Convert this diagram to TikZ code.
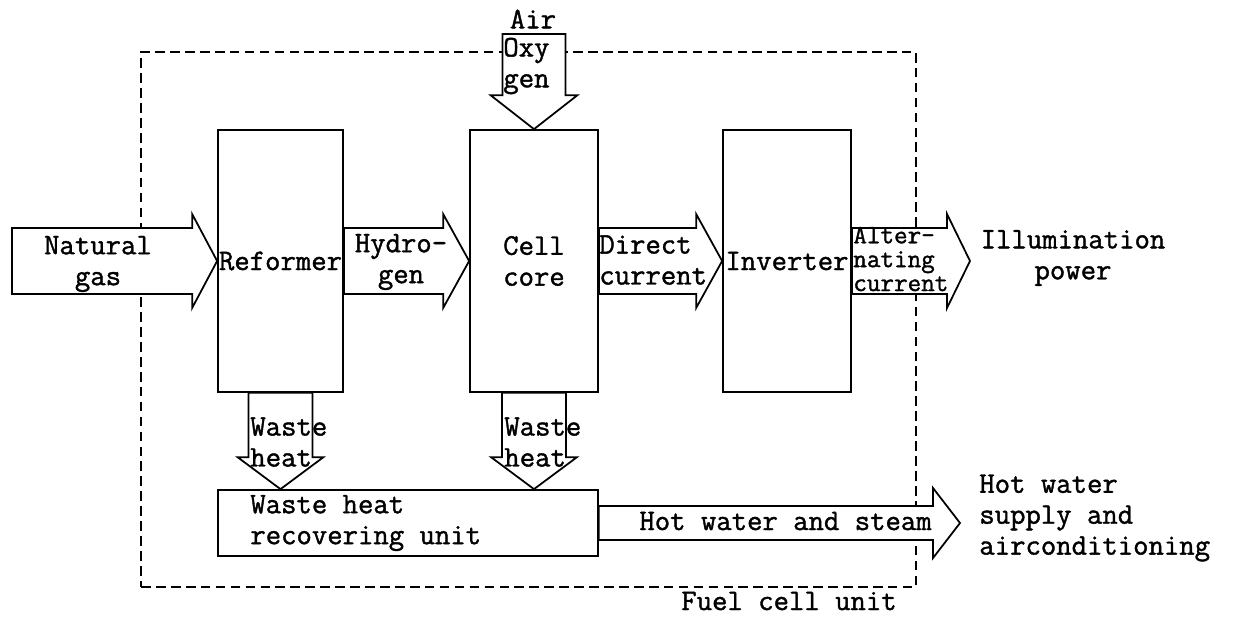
\documentclass[tikz,border=0pt]{standalone}
\usepackage{fontspec}
\usepackage{tikz}
\usetikzlibrary{calc}

\newfontfamily\typewriter[FakeBold=1.3]{Latin Modern Mono}
\newcommand{\unitfont}{\typewriter\fontsize{17}{17.6}\selectfont}

\tikzset{
	box/.style={draw, line width=1pt, inner sep=0pt, font=\unitfont, align=center, minimum height=5.24cm},
	flow/.style={draw, fill=white, line width=1pt, line join=miter},
	unitframe/.style={draw, line width=1.4pt, dash pattern=on 5.5pt off 3pt},
	txt/.style={inner sep=0pt, font=\unitfont, align=center},
	txtl/.style={inner sep=0pt, font=\unitfont, align=left, anchor=west}
}

% wide arrows: tail, tip, half body, half head, head length
\newcommand{\hflow}[5]{\draw[flow] ($(#1)+(0,-#3)$) -- ($(#2)+(-#5,-#3)$) -- ($(#2)+(-#5,-#4)$) -- (#2) -- ($(#2)+(-#5,#4)$) -- ($(#2)+(-#5,#3)$) -- ($(#1)+(0,#3)$) -- cycle;}
\newcommand{\vflow}[5]{\draw[flow] ($(#1)+(-#3,0)$) -- ($(#2)+(-#3,-#5)$) -- ($(#2)+(-#4,-#5)$) -- (#2) -- ($(#2)+(#4,-#5)$) -- ($(#2)+(#3,-#5)$) -- ($(#1)+(#3,0)$) -- cycle;}

\begin{document}
\begin{tikzpicture}[x=0.02cm, y=-0.02cm]
			\useasboundingbox (0,0) rectangle (1233,618);
			
			\node[box, minimum width=2.5cm] (ref) at (280.5,261) {Reformer};
			\node[box, minimum width=2.56cm] (cell) at (534,261) {Cell\\core};
			\node[box, minimum width=2.56cm] (inv) at (787,261) {Inverter};
			\node[box, minimum width=7.6cm, minimum height=1.32cm] (whr) at (408,523) {};
			
			\node[unitframe, minimum width=15.5cm, minimum height=10.7cm] (unit) at (528.5,319.5) {};
			
			\coordinate (gas) at (12,261);
			\coordinate (air) at (534,34);
			\coordinate (illum) at (970,261);
			\coordinate (hotwater) at (960,523);
			\coordinate (refheat) at (ref.south |- whr.north);
			\coordinate (cellheat) at (cell.south |- whr.north);
			
			\hflow{gas}{ref.west}{33}{47}{25}
			\hflow{ref.east}{cell.west}{33}{47}{26}
			\hflow{cell.east}{inv.west}{33}{47}{26}
			\hflow{inv.east}{illum}{33}{47}{23}
			\hflow{whr.east}{hotwater}{17}{35}{27}
			\vflow{air}{cell.north}{31.5}{43.5}{34}
			\vflow{ref.south}{refheat}{32}{43}{32}
			\vflow{cell.south}{cellheat}{32}{43}{32}
			
			\node[txt] (gaslabel) at (98,264) {Natural\\gas};
			\node[txt] (h2label) at (401,262) {Hydro-\\gen};
			\node[txtl] (dclabel) at (599,260) {Direct\\current};
			\node[txtl, font=\typewriter\fontsize{15}{13.6}\selectfont] (aclabel) at (853,259) {Alter-\\nating\\current};
			\node[txt] (illumlabel) at (1073,258) {Illumination\\power};
			\node[txt] (airlabel) at (533,19) {Air};
			\node[txtl] (o2label) at (503,66) {Oxy\\gen};
			\node[txtl] (refheatlabel) at (250,442) {Waste\\heat};
			\node[txtl] (cellheatlabel) at (504,442) {Waste\\heat};
			\node[txtl] (whrlabel) at (250,523) {Waste heat\\recovering unit};
			\node[txt, anchor=east] (hwlabel) at (932,521) {Hot water and steam};
			\node[txtl] (uselabel) at (979,518) {Hot water\\supply and\\airconditioning};
			\node[txt] (unitlabel) at (789,601) {Fuel cell unit};
			
		\end{tikzpicture}
\end{document}
